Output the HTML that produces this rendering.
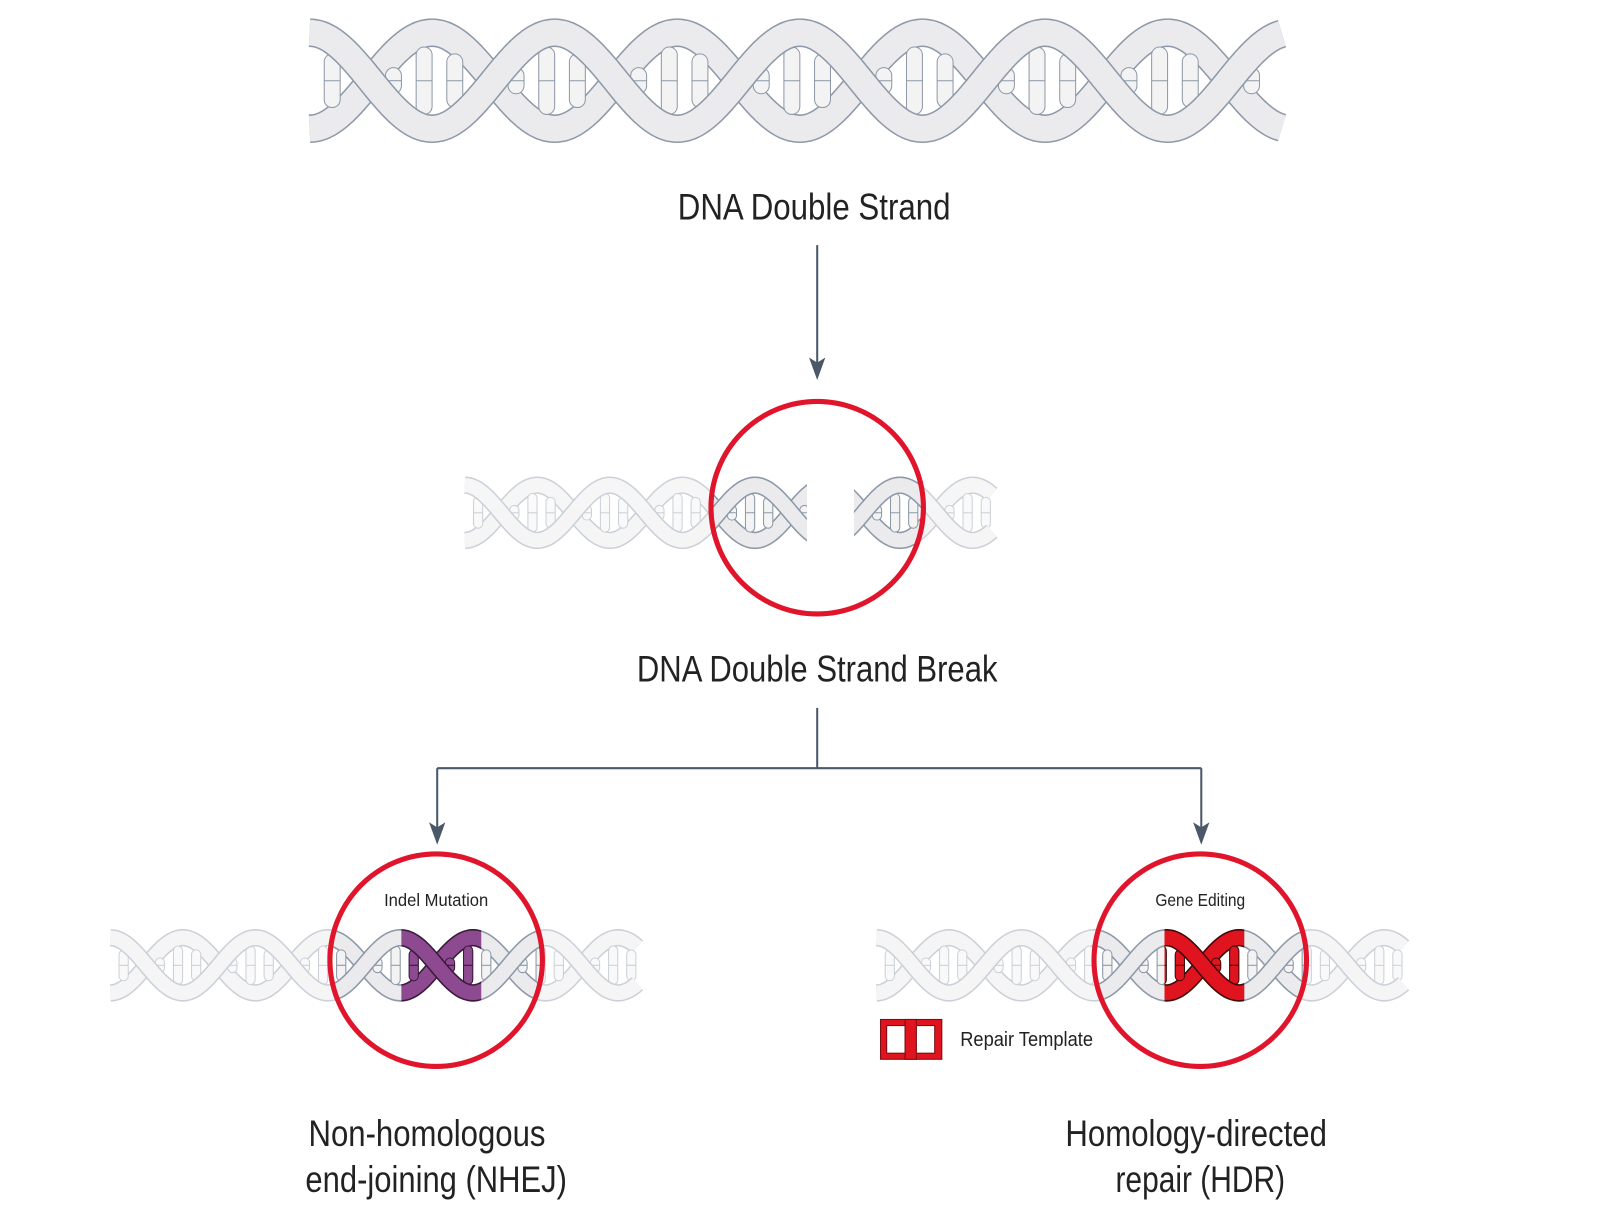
<!DOCTYPE html>
<html><head><meta charset="utf-8"><style>
html,body{margin:0;padding:0;background:#fff;width:1600px;height:1208px;overflow:hidden}
text{font-family:"Liberation Sans",sans-serif;fill:#222}
</style></head><body>
<svg id="s" width="1600" height="1208" viewBox="0 0 1600 1208" xmlns="http://www.w3.org/2000/svg">
<defs>
<clipPath id="cMid"><circle cx="800" cy="497" r="104"/></clipPath>
<clipPath id="cL"><circle cx="427" cy="940" r="104"/></clipPath>
<clipPath id="cR"><circle cx="1175" cy="940" r="104"/></clipPath>
<clipPath id="gL"><rect x="393" y="850" width="78" height="200"/></clipPath>
<clipPath id="gR"><rect x="1140" y="850" width="78" height="200"/></clipPath>
<clipPath id="brkL"><rect x="400" y="400" width="390" height="200"/></clipPath>
<clipPath id="brkR"><rect x="836" y="400" width="200" height="200"/></clipPath>
</defs>
<g transform="scale(1.0215)">
<g id="helices"></g>
<g fill="none" stroke="#4a5868" stroke-width="2">
<line x1="800" y1="240" x2="800" y2="360"/>
<polyline points="800,693 800,752"/>
<polyline points="428,752 1176,752"/>
<line x1="428" y1="752" x2="428" y2="812"/>
<line x1="1176" y1="752" x2="1176" y2="812"/>
</g>
<g fill="#4a5868">
<polygon points="792,350 800,372 808,350 800,355"/>
<polygon points="420,805 428,827 436,805 428,810"/>
<polygon points="1168,805 1176,827 1184,805 1176,810"/>
</g>
<g fill="none" stroke="#e0142a" stroke-width="5">
<circle cx="800" cy="497" r="104"/>
<circle cx="427" cy="940" r="104"/>
<circle cx="1175" cy="940" r="104"/>
</g>
<g>
<rect x="862" y="998" width="60" height="39" fill="#e0141e" stroke="#7a0a10" stroke-width="1"/>
<rect x="868" y="1004" width="18" height="27" fill="#fff" stroke="#7a0a10"/>
<rect x="897" y="1004" width="18" height="27" fill="#fff" stroke="#7a0a10"/>
<rect x="886" y="998" width="11" height="39" fill="#e0141e" stroke="#7a0a10"/>
</g>
<text x="797" y="215" font-size="36" text-anchor="middle" textLength="267" lengthAdjust="spacingAndGlyphs">DNA Double Strand</text>
<text x="800" y="667" font-size="36" text-anchor="middle" textLength="353" lengthAdjust="spacingAndGlyphs">DNA Double Strand Break</text>
<text x="427" y="887" font-size="17" text-anchor="middle" textLength="102" lengthAdjust="spacingAndGlyphs">Indel Mutation</text>
<text x="1175" y="887" font-size="17" text-anchor="middle" textLength="88" lengthAdjust="spacingAndGlyphs">Gene Editing</text>
<text x="940" y="1024" font-size="20" textLength="130" lengthAdjust="spacingAndGlyphs">Repair Template</text>
<text x="418" y="1122" font-size="36" text-anchor="middle" textLength="232" lengthAdjust="spacingAndGlyphs">Non-homologous</text>
<text x="427" y="1167" font-size="36" text-anchor="middle" textLength="256" lengthAdjust="spacingAndGlyphs">end-joining (NHEJ)</text>
<text x="1171" y="1122" font-size="36" text-anchor="middle" textLength="256" lengthAdjust="spacingAndGlyphs">Homology-directed</text>
<text x="1175" y="1167" font-size="36" text-anchor="middle" textLength="166" lengthAdjust="spacingAndGlyphs">repair (HDR)</text>
</g>
</svg>
<script>
var NS="http://www.w3.org/2000/svg",root=document.getElementById("helices");
function el(t,a,p){var e=document.createElementNS(NS,t);for(var k in a)e.setAttribute(k,a[k]);p.appendChild(e);return e;}
function helix(o){
 var g=el("g",{opacity:o.op||1},root);
 if(o.clip)g.setAttribute("clip-path","url(#"+o.clip+")");
 var x0=o.x0,x1=o.x1,cy=o.cy,A=o.A,P=o.P,sw=o.sw;
 function y(x,s){return cy-s*A*Math.cos(2*Math.PI*(x-x0)/P);}
 function strand(s){var d="";for(var x=x0;x<=x1;x+=2){d+=(d?"L":"M")+x.toFixed(1)+","+y(x,s).toFixed(1);}
  el("path",{d:d,fill:"none",stroke:o.edge,"stroke-width":sw+2},g);
  el("path",{d:d,fill:"none",stroke:o.fill,"stroke-width":sw-1},g);}
 strand(-1);
 var rw=sw*0.6;
 for(var x=x0+P*0.06;x<x1-rw;x+=P/8){
  var a=y(x+rw/2,1),b=y(x+rw/2,-1),t=Math.min(a,b),h=Math.abs(a-b);
  if(h>sw*1.2){el("rect",{x:x,y:t+sw/2,width:rw,height:h-sw,fill:o.rung,stroke:o.edge,"stroke-width":1,rx:rw/2},g);
   el("line",{x1:x,x2:x+rw,y1:cy,y2:cy,stroke:o.edge,"stroke-width":1},g);}
 }
 strand(1);
}
var base={fill:"#ebebed",edge:"#8d99a8",rung:"#f3f3f4"};
function H(o){var r={};for(var k in base)r[k]=base[k];for(var k2 in o)r[k2]=o[k2];helix(r);}
H({x0:303,x1:1255,cy:79,A:47,P:240,sw:26});
var mid={x0:455,x1:972,cy:502,A:27,P:142,sw:15};
function M(extra){var r={};for(var k in mid)r[k]=mid[k];for(var k2 in extra)r[k2]=extra[k2];H(r);}
M({op:0.45,clip:"brkL"});M({op:0.45,clip:"brkR"});
var save=root;root=el("g",{"clip-path":"url(#cMid)"},save);M({clip:"brkL"});M({clip:"brkR"});root=save;
function B(x0,clipC,clipG,col,ed){
 var o={x0:x0,x1:x0+517,cy:945,A:27,P:142,sw:15};
 var r={};for(var k in o)r[k]=o[k];r.op=0.45;H(r);
 var save=root;root=el("g",{"clip-path":"url(#"+clipC+")"},save);
 var r2={};for(var k in o)r2[k]=o[k];H(r2);
 var r3={};for(var k in o)r3[k]=o[k];r3.fill=col;r3.rung=col;r3.edge=ed;r3.clip=clipG;H(r3);
 root=save;
}
B(108,"cL","gL","#8e4a90","#3a1a3a");
B(858,"cR","gR","#e0141e","#400808");
</script>
</body></html>
